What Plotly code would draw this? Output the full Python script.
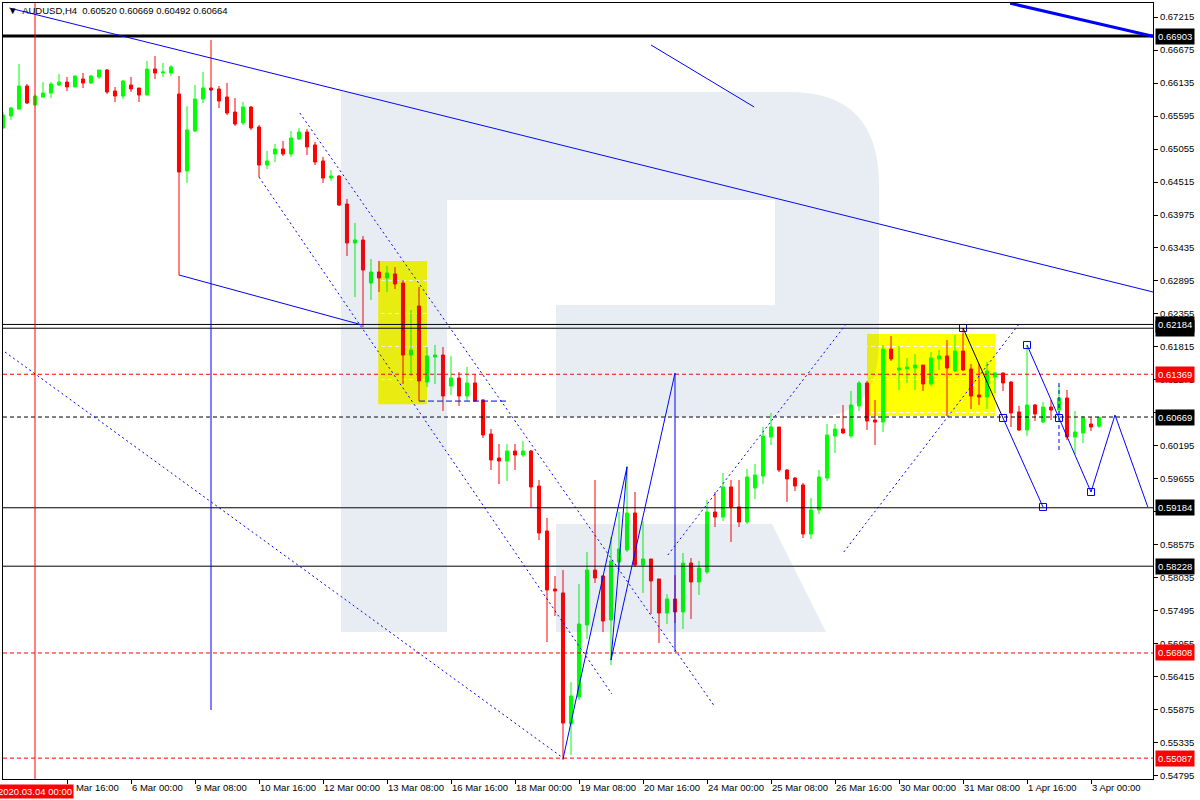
import plotly.graph_objects as go

# ---------------- data ----------------
symbol = "AUDUSD,H4"
bar_index = list(range(-4, 134))  # 0 = 2020.03.04 00:00, H4 bars

opens = [0.65399, 0.65595, 0.65709, 0.66086, 0.65775, 0.65906, 0.65971, 0.66102, 0.66151, 0.66070,
         0.66201, 0.66135, 0.66233, 0.66348, 0.66004, 0.65922, 0.66102, 0.66053, 0.65938, 0.66364,
         0.66299, 0.66299, 0.65955, 0.64695, 0.65350, 0.65873, 0.66053, 0.66037, 0.65906, 0.65660,
         0.65481, 0.65742, 0.65415, 0.64793, 0.64973, 0.65055, 0.64973, 0.65219, 0.65333, 0.65121,
         0.64859, 0.64580, 0.64613, 0.64155, 0.63517, 0.63566, 0.62862, 0.63042, 0.62944, 0.63010,
         0.62862, 0.61684, 0.62486, 0.61242, 0.61651, 0.61684, 0.61177, 0.61308, 0.61013, 0.61226,
         0.60948, 0.60391, 0.59998, 0.59949, 0.60113, 0.60047, 0.60113, 0.59540, 0.58804, 0.57855,
         0.57790, 0.55646, 0.56088, 0.57266, 0.58166, 0.58068, 0.57348, 0.58297, 0.58493, 0.59099,
         0.58248, 0.58346, 0.58019, 0.57462, 0.57691, 0.57479, 0.58280, 0.57970, 0.58133, 0.59115,
         0.59033, 0.59524, 0.59197, 0.58951, 0.59508, 0.59704, 0.60342, 0.60506, 0.59802, 0.59671,
         0.59557, 0.58755, 0.59148, 0.59671, 0.60358, 0.60473, 0.60358, 0.60850, 0.61226, 0.60620,
         0.60587, 0.61782, 0.61439, 0.61455, 0.61471, 0.61520, 0.61210, 0.61619, 0.61668, 0.61422,
         0.61749, 0.61455, 0.61030, 0.60997, 0.61324, 0.61390, 0.61242, 0.60752, 0.60457, 0.60866,
         0.60587, 0.60833, 0.60784, 0.60980, 0.60342, 0.60408, 0.60555, 0.60520]
highs = [0.65660, 0.65742, 0.66446, 0.66119, 0.65938, 0.66151, 0.66151, 0.66283, 0.66233, 0.66250,
         0.66299, 0.66266, 0.66348, 0.66364, 0.66070, 0.66184, 0.66233, 0.66053, 0.66495, 0.66577,
         0.66462, 0.66430, 0.66250, 0.65758, 0.66102, 0.66315, 0.66839, 0.66086, 0.66135, 0.65889,
         0.65824, 0.65758, 0.65448, 0.65022, 0.65137, 0.65186, 0.65350, 0.65399, 0.65383, 0.65170,
         0.64924, 0.64711, 0.64629, 0.64237, 0.63844, 0.63632, 0.63255, 0.63223, 0.63141, 0.63124,
         0.62911, 0.62420, 0.62797, 0.61815, 0.61848, 0.61815, 0.61668, 0.61406, 0.61488, 0.61373,
         0.60964, 0.60473, 0.60227, 0.60227, 0.60227, 0.60276, 0.60129, 0.59639, 0.59017, 0.58068,
         0.58166, 0.56333, 0.57937, 0.58460, 0.59639, 0.58084, 0.58706, 0.59115, 0.59868, 0.59442,
         0.58968, 0.58346, 0.58019, 0.57773, 0.58084, 0.58444, 0.58362, 0.58313, 0.59311, 0.59442,
         0.59753, 0.59639, 0.59639, 0.59819, 0.59900, 0.60506, 0.60735, 0.60506, 0.59819, 0.59688,
         0.59590, 0.59344, 0.59802, 0.60555, 0.60555, 0.60866, 0.61095, 0.61259, 0.61259, 0.60948,
         0.61848, 0.61995, 0.61831, 0.61635, 0.61700, 0.61520, 0.61733, 0.61766, 0.61929, 0.62011,
         0.62126, 0.61537, 0.61537, 0.61570, 0.61406, 0.61390, 0.61259, 0.60850, 0.61848, 0.60882,
         0.60915, 0.60948, 0.61193, 0.61111, 0.60768, 0.60686, 0.60669, 0.60669]
lows = [0.65383, 0.65530, 0.65693, 0.65791, 0.65758, 0.65889, 0.65889, 0.66086, 0.66004, 0.66070,
        0.66053, 0.66119, 0.66201, 0.65955, 0.65824, 0.65873, 0.65988, 0.65824, 0.65938, 0.66201,
        0.66233, 0.66250, 0.62993, 0.64499, 0.65333, 0.65808, 0.66004, 0.65726, 0.65611, 0.65432,
        0.65448, 0.65366, 0.64596, 0.64728, 0.64842, 0.64940, 0.64924, 0.65202, 0.64957, 0.64793,
        0.64499, 0.64531, 0.64122, 0.63304, 0.62633, 0.62142, 0.62584, 0.62715, 0.62715, 0.62764,
        0.61210, 0.61341, 0.60932, 0.61160, 0.61210, 0.60768, 0.61030, 0.60850, 0.60932, 0.60915,
        0.60326, 0.59802, 0.59573, 0.59622, 0.59802, 0.60015, 0.59196, 0.58657, 0.56987, 0.57413,
        0.55057, 0.55138, 0.56039, 0.57037, 0.57953, 0.57151, 0.56611, 0.58133, 0.58460, 0.58215,
        0.57790, 0.57446, 0.56971, 0.57282, 0.57299, 0.57200, 0.57364, 0.57757, 0.58100, 0.58869,
        0.58968, 0.58624, 0.58869, 0.58918, 0.59328, 0.59573, 0.60211, 0.59769, 0.59279, 0.59458,
        0.58689, 0.58673, 0.59082, 0.59622, 0.60080, 0.60391, 0.60326, 0.60768, 0.60457, 0.60211,
        0.60424, 0.61586, 0.61111, 0.61226, 0.61111, 0.61095, 0.61177, 0.61439, 0.60686, 0.61406,
        0.61422, 0.60801, 0.60866, 0.60801, 0.61062, 0.61095, 0.60506, 0.60440, 0.60358, 0.60604,
        0.60571, 0.60620, 0.60620, 0.60293, 0.60064, 0.60244, 0.60440, 0.60492]
closes = [0.65611, 0.65726, 0.66086, 0.65808, 0.65922, 0.65971, 0.66119, 0.66151, 0.66070, 0.66250,
          0.66135, 0.66250, 0.66348, 0.65988, 0.65922, 0.66168, 0.66037, 0.65938, 0.66364, 0.66299,
          0.66315, 0.66397, 0.64678, 0.65366, 0.65873, 0.66053, 0.66020, 0.65840, 0.65644, 0.65464,
          0.65742, 0.65399, 0.64793, 0.64859, 0.65055, 0.64973, 0.65235, 0.65333, 0.65088, 0.64842,
          0.64580, 0.64613, 0.64138, 0.63517, 0.63566, 0.63075, 0.63042, 0.62944, 0.63026, 0.62846,
          0.61684, 0.61766, 0.61259, 0.61668, 0.61684, 0.61013, 0.61308, 0.61013, 0.61226, 0.60932,
          0.60375, 0.59966, 0.59949, 0.60113, 0.60047, 0.60113, 0.59524, 0.58771, 0.57839, 0.57822,
          0.55662, 0.56104, 0.57282, 0.58166, 0.58035, 0.57331, 0.58313, 0.58509, 0.59099, 0.58248,
          0.58346, 0.57986, 0.57462, 0.57691, 0.57479, 0.58280, 0.57970, 0.58198, 0.59115, 0.59033,
          0.59524, 0.59197, 0.58951, 0.59688, 0.59720, 0.60358, 0.60506, 0.59802, 0.59655, 0.59540,
          0.58755, 0.59148, 0.59688, 0.60375, 0.60473, 0.60408, 0.60866, 0.61226, 0.60604, 0.60587,
          0.61782, 0.61619, 0.61471, 0.61488, 0.61520, 0.61210, 0.61635, 0.61668, 0.61471, 0.61749,
          0.61439, 0.61013, 0.60997, 0.61422, 0.61390, 0.61226, 0.60735, 0.60457, 0.60866, 0.60719,
          0.60833, 0.60784, 0.60980, 0.60342, 0.60424, 0.60653, 0.60506, 0.60664]

x_tick_index = [4, 12, 20, 28, 36, 44, 52, 60, 68, 76, 84, 92, 100, 108, 116, 124, 132]
x_tick_labels = ["4 Mar 16:00", "6 Mar 00:00", "9 Mar 08:00", "10 Mar 16:00", "12 Mar 00:00",
                 "13 Mar 08:00", "16 Mar 16:00", "18 Mar 00:00", "19 Mar 08:00", "20 Mar 16:00",
                 "24 Mar 00:00", "25 Mar 08:00", "26 Mar 16:00", "30 Mar 00:00", "31 Mar 08:00",
                 "1 Apr 16:00", "3 Apr 00:00"]
y_ticks = [0.67215, 0.66675, 0.66135, 0.65595, 0.65055, 0.64515, 0.63975, 0.63435, 0.62895,
           0.62355, 0.61815, 0.61275, 0.60735, 0.60195, 0.59655, 0.59115, 0.58575, 0.58035,
           0.57495, 0.56955, 0.56415, 0.55875, 0.55335, 0.54795]
price_range = [0.547456, 0.674441]
index_range = [-4.0, 139.75]
marker_date = "2020.03.04 00:00"

# horizontal levels: (price, colour, dash, width)
levels = [(0.66903, "#000000", "solid", 3), (0.62184, "#000000", "solid", 1),
          (0.62122, "#000000", "solid", 1), (0.59184, "#000000", "solid", 1),
          (0.58228, "#000000", "solid", 1), (0.61369, "#ff0000", "4px,3px", 1),
          (0.56808, "#ff0000", "4px,3px", 1), (0.55087, "#ff0000", "4px,3px", 1),
          (0.60669, "#000000", "4px,3px", 1)]
axis_price_tags = [(0.66903, "#000000"), (0.62122, "#000000"), (0.62184, "#000000"),
                   (0.61369, "#ff0000"), (0.60669, "#000000"), (0.59184, "#000000"),
                   (0.58228, "#000000"), (0.56808, "#ff0000"), (0.55087, "#ff0000")]

# line objects: list of (bar index, price) points, colour, dash, width
line_objects = [
    ([(121.9, 0.6744), (139.75, 0.6690)], "#0000ff", "solid", 3),
    ([(-3.2, 0.67362), (139.75, 0.62715)], "#0000ff", "solid", 1),
    ([(77, 0.66757), (89.9, 0.65742)], "#0000ff", "solid", 1),
    ([(18, 0.62993), (40.9, 0.62175)], "#0000ff", "solid", 1),
    ([(66, 0.55073), (74, 0.59851), (72, 0.56693), (80, 0.61389), (80, 0.56824)], "#0000ff", "solid", 1),
    ([(116, 0.62126), (121, 0.60653)], "#000000", "solid", 1),
    ([(121, 0.60653), (126, 0.59197)], "#0000ff", "solid", 1),
    ([(124, 0.61848), (128, 0.60653), (132, 0.59442), (135, 0.60702), (139.1, 0.59197)], "#0000ff", "solid", 1),
    ([(-3.75, 0.61733), (66, 0.55090)], "#0000ff", "2px,3px", 1),
    ([(28, 0.64596), (72.1, 0.56137)], "#0000ff", "2px,3px", 1),
    ([(33.1, 0.65644), (85, 0.55924)], "#0000ff", "2px,3px", 1),
    ([(79.1, 0.58411), (101.6, 0.62224)], "#0000ff", "2px,3px", 1),
    ([(101.1, 0.58460), (123.1, 0.62207)], "#0000ff", "2px,3px", 1),
    ([(48, 0.6093), (58.9, 0.6093)], "#0000ff", "6px,3px", 1),
    ([(128, 0.61226), (128, 0.60080)], "#0000ff", "4px,3px", 1),
    ([(22, 0.66020), (22, 0.55875)], "#0000ff", "solid", 1),
]
wave_points_x = [116, 121, 126, 124, 128, 132]
wave_points_y = [0.62126, 0.60653, 0.59197, 0.61848, 0.60653, 0.59442]
# rectangles: (start index, top price, end index, bottom price)
zones = [(42.9, 0.63223, 49.0, 0.60877), (104.0, 0.62027, 120.0, 0.60686)]

FONT = "Liberation Sans, Arial, sans-serif"

fig = go.Figure()
fig.add_trace(go.Candlestick(
    x=bar_index, open=opens, high=highs, low=lows, close=closes,
    increasing=dict(line=dict(color="#00ff00", width=1), fillcolor="#00ff00"),
    decreasing=dict(line=dict(color="#ff0000", width=1), fillcolor="#ff0000"),
    whiskerwidth=0, showlegend=False, hoverinfo="skip"))

shapes = []
for x0, y0, x1, y1 in zones:
    shapes.append(dict(type="rect", xref="x", yref="y", x0=x0, x1=x1, y0=y0, y1=y1,
                       fillcolor="#ffff00", line=dict(width=0), layer="below"))
for p, c, d, w in levels:
    shapes.append(dict(type="line", xref="paper", yref="y", x0=0, x1=1, y0=p, y1=p,
                       line=dict(color=c, dash=d, width=w)))
shapes.append(dict(type="line", xref="x", yref="paper", x0=0, x1=0, y0=0, y1=1,
                   line=dict(color="#ff0000", width=1)))
for pts, c, d, w in line_objects:
    for (xa, ya), (xb, yb) in zip(pts[:-1], pts[1:]):
        shapes.append(dict(type="line", xref="x", yref="y", x0=xa, y0=ya, x1=xb, y1=yb,
                           line=dict(color=c, dash=d, width=w)))
# faint logo watermark
wm = "rgba(46,82,145,0.11)"
shapes.append(dict(type="path", xref="paper", yref="paper", layer="above", fillcolor=wm, line=dict(width=0),
                   path="M 0.29391,0.88531 L 0.68435,0.88531 Q 0.76174,0.88531 0.76174,0.76546 "
                        "L 0.76174,0.56572 Q 0.76174,0.46649 0.70609,0.46649 L 0.48087,0.46649 "
                        "L 0.48087,0.61082 L 0.67130,0.61082 L 0.67130,0.74613 L 0.38609,0.74613 "
                        "L 0.38609,0.18943 L 0.29391,0.18943 Z"))
shapes.append(dict(type="path", xref="paper", yref="paper", layer="above", fillcolor=wm, line=dict(width=0),
                   path="M 0.48087,0.32861 L 0.66870,0.32861 L 0.71565,0.18943 L 0.48087,0.18943 Z"))

fig.add_trace(go.Scatter(x=wave_points_x, y=wave_points_y, mode="markers", showlegend=False,
                         hoverinfo="skip",
                         marker=dict(symbol="square-open", size=7, color="#0000ff", line=dict(width=1))))

annotations = []
for p, c in axis_price_tags:
    annotations.append(dict(xref="paper", yref="y", x=1, y=p, xanchor="left", yanchor="middle",
                            xshift=2, text=f"{p:.5f}", showarrow=False, bgcolor=c,
                            borderpad=2,
                            font=dict(family=FONT, size=9.5, color="#ffffff")))
annotations.append(dict(xref="x", yref="paper", x=0, y=-0.0155, xanchor="center", yanchor="middle",
                        text=marker_date, showarrow=False, bgcolor="#ff0000", borderpad=1,
                        font=dict(family=FONT, size=9.5, color="#ffffff")))
title = (f"\u25bc\u00a0 {symbol}\u00a0\u00a0{opens[-1]:.5f} {highs[-1]:.5f} "
         f"{lows[-1]:.5f} {closes[-1]:.5f}")
annotations.append(dict(xref="paper", yref="paper", x=0.003, y=0.9897, xanchor="left", yanchor="middle",
                        text=title, showarrow=False, font=dict(family=FONT, size=9.5, color="#000000")))

fig.update_layout(
    width=1200, height=800, margin=dict(l=3, r=47, t=3, b=21, autoexpand=False),
    paper_bgcolor="#ffffff", plot_bgcolor="#ffffff", boxgap=0.45,
    shapes=shapes, annotations=annotations, showlegend=False,
    font=dict(family=FONT, size=9.5, color="#000000"),
    xaxis=dict(range=index_range, rangeslider=dict(visible=False), tickmode="array",
               tickvals=x_tick_index, ticktext=x_tick_labels, ticks="outside", ticklen=4,
               tickangle=0, automargin=False,
               tickcolor="#000000", ticklabelposition="outside right", showgrid=False,
               zeroline=False, showline=True, linecolor="#000000", linewidth=1, mirror=True,
               tickfont=dict(family=FONT, size=9.5, color="#000000")),
    yaxis=dict(range=price_range, side="right", tickmode="array", tickvals=y_ticks,
               ticktext=[f"{v:.5f}" for v in y_ticks], ticks="outside", ticklen=4,
               automargin=False,
               tickcolor="#000000", showgrid=True, gridcolor="#ffffff", griddash="4px,3px",
               gridwidth=1, zeroline=False, showline=True, linecolor="#000000", linewidth=1,
               mirror=True, tickfont=dict(family=FONT, size=9.5, color="#000000")),
)
fig.write_html("out.html", config={"displayModeBar": False},
               post_script="document.body.style.margin='0';document.body.style.overflow='hidden';")
